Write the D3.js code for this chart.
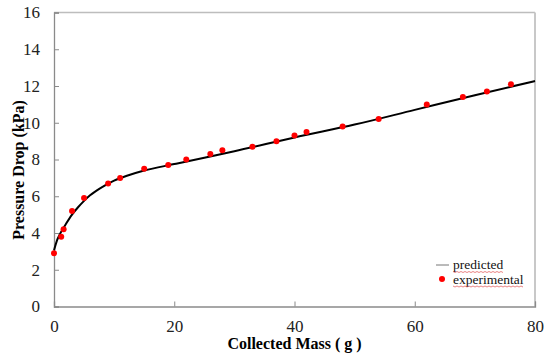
<!DOCTYPE html>
<html>
<head>
<meta charset="utf-8">
<script src="https://cdn.jsdelivr.net/npm/d3@7"></script>
<style>
  body { margin: 0; background: #fff; }
  svg text { font-family: "Liberation Serif", "DejaVu Serif", serif; }
  .tick text { font-size: 17px; font-family: "Liberation Serif", serif; }
</style>
</head>
<body>
<div id="chart"></div>
<script>
const w = 550;
const h = 356;

// experimental points
const expMass = [0, 1.2, 1.6, 3, 5, 9, 11, 15, 19, 22, 26, 28, 33, 37, 40, 42, 48, 54, 62, 68, 72, 76];
const expDrop = [2.9, 3.8, 4.2, 5.2, 5.9, 6.7, 7.0, 7.5, 7.7, 8.0, 8.3, 8.5, 8.7, 9.0, 9.3, 9.5, 9.8, 10.2, 11.0, 11.4, 11.7, 12.1];

// predicted curve
const predMass = [0, 0.5, 1, 2, 3, 4, 5, 6, 8, 10, 12, 15, 20, 25, 30, 40, 50, 60, 70, 80];
const predDrop = [3.05, 3.6, 3.95, 4.5, 5.0, 5.4, 5.75, 6.05, 6.5, 6.85, 7.1, 7.4, 7.75, 8.1, 8.45, 9.2, 9.9, 10.7, 11.5, 12.27];

const xTicks = [0, 20, 40, 60, 80];
const yTicks = [0, 2, 4, 6, 8, 10, 12, 14, 16];

const pLeft = 54, pRight = 535, pTop = 12.5, pBottom = 306.5;

const svg = d3.select('#chart')
    .append('svg')
    .attr('width', w)
    .attr('height', h);

const xScale = d3.scaleLinear().domain([0, 80]).range([pLeft, pRight]);
const yScale = d3.scaleLinear().domain([0, 16]).range([pBottom, pTop]);

// frame: top and right lighter
svg.append('line')
    .attr('x1', pLeft).attr('x2', pRight)
    .attr('y1', pTop).attr('y2', pTop)
    .attr('stroke', '#bdbdbd').attr('stroke-width', 1.5);
svg.append('line')
    .attr('x1', pRight).attr('x2', pRight)
    .attr('y1', pTop).attr('y2', pBottom)
    .attr('stroke', '#c8c8c8').attr('stroke-width', 2);

// Axes
const xAxis = d3.axisBottom(xScale).tickValues(xTicks).tickSize(-5).tickPadding(13);
const yAxis = d3.axisLeft(yScale).tickValues(yTicks).tickSize(-5).tickPadding(14);

const gx = svg.append('g')
    .attr('transform', 'translate(0,' + pBottom + ')')
    .call(xAxis);
const gy = svg.append('g')
    .attr('transform', 'translate(' + pLeft + ',0)')
    .call(yAxis);

[gx, gy].forEach(g => {
    g.select('.domain').attr('stroke', '#8a8a8a').attr('stroke-width', 1.3);
    g.selectAll('.tick line').attr('stroke', '#8a8a8a');
    g.selectAll('.tick text').attr('fill', '#222');
});

// predicted line
const line = d3.line()
    .x((d, i) => xScale(predMass[i]))
    .y((d, i) => yScale(predDrop[i]))
    .curve(d3.curveMonotoneX);

svg.append('path')
    .datum(predMass)
    .attr('d', line)
    .attr('fill', 'none')
    .attr('stroke', '#000')
    .attr('stroke-width', 2);

// experimental dots
svg.selectAll('circle.dot')
    .data(expMass)
    .enter()
    .append('circle')
    .attr('class', 'dot')
    .attr('cx', d => xScale(d))
    .attr('cy', (d, i) => yScale(expDrop[i]))
    .attr('r', 3)
    .attr('fill', '#ff0000');

// axis titles
svg.append('text')
    .attr('x', (pLeft + pRight) / 2)
    .attr('y', 349)
    .attr('text-anchor', 'middle')
    .style('font-size', '16px')
    .style('font-weight', 'bold')
    .text('Collected Mass ( g )');

svg.append('text')
    .attr('transform', 'rotate(-90)')
    .attr('x', -170)
    .attr('y', 24)
    .attr('text-anchor', 'middle')
    .style('font-size', '16px')
    .style('font-weight', 'bold')
    .text('Pressure Drop (kPa)');

// legend
const legend = svg.append('g');
legend.append('line')
    .attr('x1', 436).attr('x2', 449)
    .attr('y1', 265).attr('y2', 265)
    .attr('stroke', '#777').attr('stroke-width', 1);
legend.append('circle')
    .attr('cx', 442).attr('cy', 279)
    .attr('r', 3).attr('fill', '#ff0000');

const labels = ['predicted', 'experimental'];
labels.forEach((t, i) => {
    const txt = legend.append('text')
        .attr('x', 453)
        .attr('y', 269 + i * 14.5)
        .style('font-size', '13.5px')
        .attr('fill', '#111')
        .text(t);
    const bw = txt.node().getComputedTextLength();
    // spell-check squiggle under the label
    const y0 = 271.5 + i * 14.5;
    const pts = d3.range(0, Math.floor(bw / 2) + 1).map(k => [453 + k * 2, y0 + (k % 2 ? 1 : 0)]);
    legend.append('path')
        .attr('d', d3.line()(pts))
        .attr('fill', 'none')
        .attr('stroke', '#e05050')
        .attr('stroke-width', 0.7);
});
</script>
</body>
</html>
